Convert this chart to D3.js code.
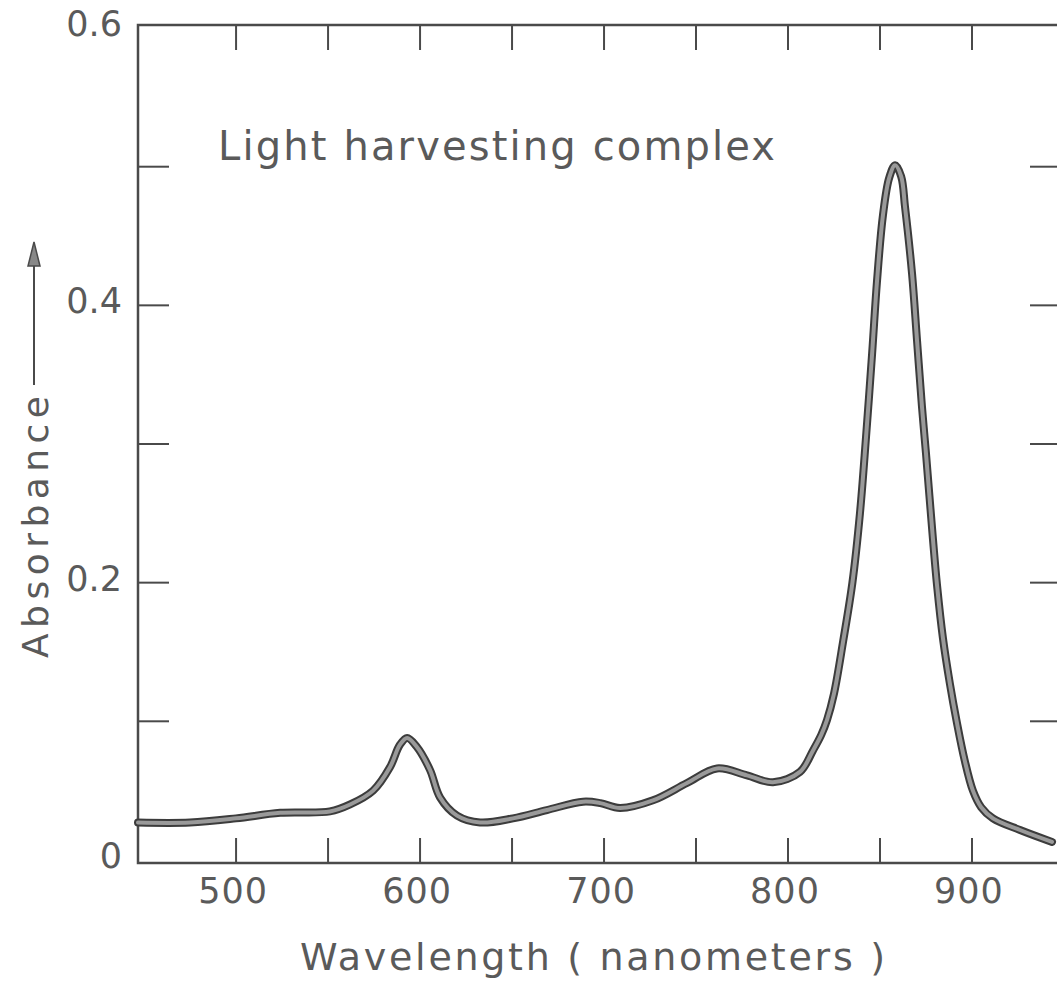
<!DOCTYPE html>
<html>
<head>
<meta charset="utf-8">
<script src="https://cdn.jsdelivr.net/npm/d3@7"></script>
<style>
  html, body { margin: 0; padding: 0; background: #fff; }
  svg { display: block; }
  text { font-family: "DejaVu Sans", "Noto Sans", sans-serif; fill: #5a5a5a; }
</style>
</head>
<body>
<script>
"use strict";

// absorbance spectrum
let wavelength = [446.7, 475, 500, 524, 551, 562, 574.5, 583.7, 589, 593, 598, 605.4, 610.9, 620.1, 632.6, 650.5, 669, 688.6, 698, 708.7, 726.6, 745.1, 761.4, 777.7, 791.8, 806.5, 813.6, 818, 821.2, 825, 830, 835, 839.1, 842.4, 845.7, 848.4, 851.6, 855, 858.2, 861.5, 863.6, 867.4, 870.1, 872.8, 875, 878.8, 881, 884.2, 888, 891.8, 896, 900.5, 905, 911.4, 926.1, 943.5];
let absorbance = [0.027, 0.027, 0.030, 0.034, 0.035, 0.040, 0.050, 0.067, 0.083, 0.088, 0.082, 0.065, 0.045, 0.032, 0.027, 0.030, 0.036, 0.042, 0.041, 0.0375, 0.043, 0.0555, 0.066, 0.061, 0.056, 0.0635, 0.079, 0.090, 0.101, 0.120, 0.158, 0.200, 0.250, 0.305, 0.365, 0.418, 0.465, 0.492, 0.501, 0.493, 0.471, 0.423, 0.375, 0.327, 0.293, 0.231, 0.198, 0.160, 0.127, 0.099, 0.072, 0.050, 0.038, 0.030, 0.0216, 0.013];

let xTicks = [500, 550, 600, 650, 700, 750, 800, 850, 900];
let xTickLabels = [500, 600, 700, 800, 900];
let yTicks = [0.1, 0.2, 0.3, 0.4, 0.5];
let yTickLabels = [0, 0.2, 0.4, 0.6];

let title = "Light harvesting complex";
let xTitle = "Wavelength ( nanometers )";
let yTitle = "Absorbance";

let w = 1057;
let h = 992;
let m = {left: 138, right: 1057, top: 25, bottom: 863};

let x = d3.scaleLinear().domain([446.7, 946.2]).range([m.left, m.right]);
let y = d3.scaleLinear().domain([-0.0022, 0.6022]).range([m.bottom, m.top]);

let svg = d3.select("body").append("svg")
    .attr("width", w)
    .attr("height", h);

let ink = "#4a4a4a";

// frame
svg.append("path")
    .attr("d", "M" + m.right + "," + m.top + "H" + m.left + "V" + m.bottom + "H" + m.right)
    .attr("fill", "none")
    .attr("stroke", ink)
    .attr("stroke-width", 2.5);

// ticks, drawn inward on all four sides
svg.append("g").selectAll("line")
    .data(xTicks).enter().append("line")
    .attr("x1", d => x(d)).attr("x2", d => x(d))
    .attr("y1", m.bottom).attr("y2", m.bottom - 25)
    .attr("stroke", ink).attr("stroke-width", 2);

svg.append("g").selectAll("line")
    .data(xTicks).enter().append("line")
    .attr("x1", d => x(d)).attr("x2", d => x(d))
    .attr("y1", m.top).attr("y2", m.top + 25)
    .attr("stroke", ink).attr("stroke-width", 2);

svg.append("g").selectAll("line")
    .data(yTicks).enter().append("line")
    .attr("x1", m.left).attr("x2", m.left + 31)
    .attr("y1", d => y(d)).attr("y2", d => y(d))
    .attr("stroke", ink).attr("stroke-width", 2);

svg.append("g").selectAll("line")
    .data(yTicks).enter().append("line")
    .attr("x1", m.right - 27).attr("x2", m.right)
    .attr("y1", d => y(d)).attr("y2", d => y(d))
    .attr("stroke", ink).attr("stroke-width", 2);

// tick labels
svg.append("g").selectAll("text")
    .data(xTickLabels).enter().append("text")
    .attr("x", d => x(d) - 3)
    .attr("y", 903)
    .attr("text-anchor", "middle")
    .style("font-size", "35px")
    .attr("letter-spacing", 1)
    .text(d => d);

svg.append("g").selectAll("text")
    .data(yTickLabels).enter().append("text")
    .attr("x", 122)
    .attr("y", d => y(d) + 8)
    .attr("text-anchor", "end")
    .style("font-size", "35px")
    .text(d => d === 0 ? "0" : d.toFixed(1));

// titles
svg.append("text")
    .attr("x", 218).attr("y", 160)
    .attr("textLength", 557)
    .attr("lengthAdjust", "spacing")
    .style("font-size", "40px")
    .text(title);

svg.append("text")
    .attr("x", 300).attr("y", 970)
    .attr("textLength", 585)
    .attr("lengthAdjust", "spacing")
    .style("font-size", "38px")
    .text(xTitle);

svg.append("text")
    .attr("transform", "translate(48,658) rotate(-90)")
    .attr("textLength", 262)
    .attr("lengthAdjust", "spacing")
    .style("font-size", "36px")
    .text(yTitle);

// arrow next to the y title
svg.append("line")
    .attr("x1", 34).attr("x2", 34)
    .attr("y1", 385).attr("y2", 262)
    .attr("stroke", ink).attr("stroke-width", 2);
svg.append("path")
    .attr("d", "M34,242L28,266L40,266Z")
    .attr("fill", "#888").attr("stroke", ink).attr("stroke-width", 1.5);

// spectrum
let line = d3.line()
    .x((d, i) => x(wavelength[i]))
    .y(d => y(d))
    .curve(d3.curveCatmullRom.alpha(0.5));

svg.append("path")
    .datum(absorbance)
    .attr("d", line)
    .attr("fill", "none")
    .attr("stroke", "#3c3c3c")
    .attr("stroke-width", 8)
    .attr("stroke-linejoin", "round")
    .attr("stroke-linecap", "round");

svg.append("path")
    .datum(absorbance)
    .attr("d", line)
    .attr("fill", "none")
    .attr("stroke", "#9a9a9a")
    .attr("stroke-width", 4)
    .attr("stroke-linejoin", "round")
    .attr("stroke-linecap", "round");
</script>
</body>
</html>
